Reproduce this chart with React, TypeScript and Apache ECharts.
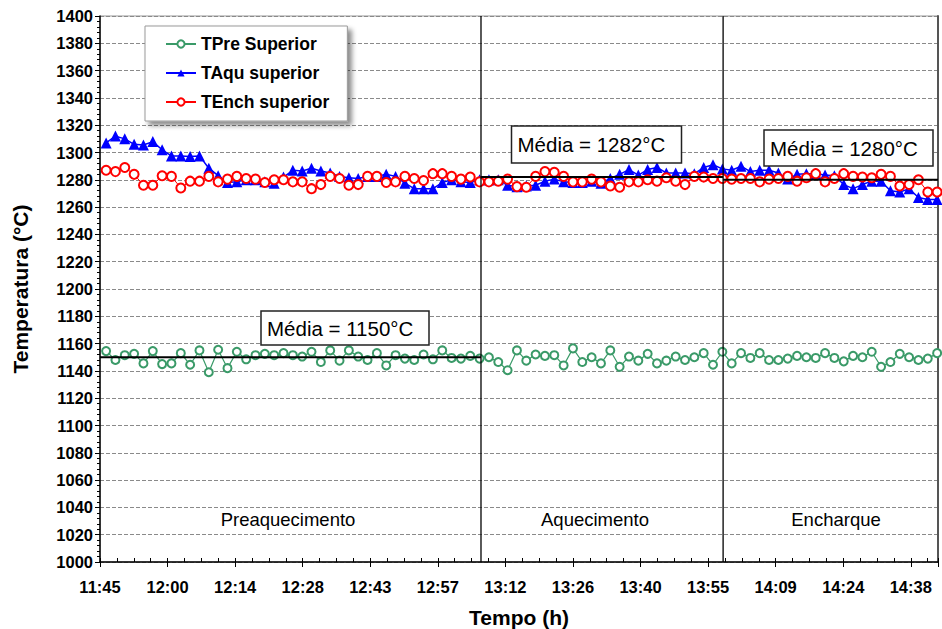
import React, { useEffect, useRef } from "react";
import * as echarts from "echarts";

const FONT = '"Liberation Sans", Arial, sans-serif';

// x axis: minutes after 11:45, major step 14.4 min (0.01 day)
const xTickLabels = ["11:45", "12:00", "12:14", "12:28", "12:43", "12:57", "13:12", "13:26", "13:40", "13:55", "14:09", "14:24", "14:38"];
const X_STEP = 14.4;
const X_MAX = 178.6;
// sampling of the readings (minutes after 11:45)
const SAMPLE_START = 1.3;
const SAMPLE_STEP = 1.99;

const tPreSuperior = [
  1154.5, 1148, 1151.5, 1152.5, 1145.5, 1154.5, 1145, 1145.5, 1153, 1144.5,
  1155, 1139, 1155.5, 1142, 1154, 1148.5, 1151.5, 1152.5, 1151.5, 1153,
  1151.5, 1150.5, 1154, 1146.5, 1155, 1147.5, 1155, 1150.5, 1148, 1153,
  1144, 1151.5, 1149, 1148, 1152, 1148.5, 1155, 1149.5, 1149, 1151,
  1149, 1150, 1146.5, 1140.5, 1155, 1147.5, 1152, 1151, 1151.5, 1144,
  1156.5, 1146.5, 1150, 1145.5, 1155, 1143, 1150.5, 1147.5, 1152.5, 1145.5,
  1147.5, 1150.5, 1148, 1150, 1153, 1144.5, 1154, 1145.5, 1153, 1149.5,
  1153, 1148, 1148, 1149, 1151, 1150, 1149.5, 1153, 1149.5, 1147,
  1151, 1150, 1154, 1143, 1146.5, 1152.5, 1150, 1148, 1149, 1153,
];

const tAquSuperior = [
  1307, 1312, 1310, 1306, 1305.5, 1308, 1302, 1297.5, 1297.5, 1297,
  1297.5, 1288.5, 1283, 1278, 1278.5, 1280, 1280, 1278.5, 1277.5, 1282,
  1287, 1286.5, 1288.5, 1286.5, 1285, 1282.5, 1281.5, 1281, 1282.5, 1282.5,
  1284, 1282.5, 1277.5, 1273.5, 1273.5, 1273.5, 1278, 1280, 1278.5, 1278,
  1280, 1280, 1280, 1276, 1275, 1275.5, 1276, 1279, 1280.5, 1278.5,
  1278, 1278, 1279, 1277.5, 1281, 1284, 1287.5, 1283.5, 1287.5, 1289,
  1285, 1285, 1285, 1284.5, 1289, 1291, 1288, 1287, 1290, 1286,
  1287, 1287, 1285, 1280.5, 1284, 1284.5, 1284.5, 1283.5, 1283, 1276.5,
  1273.5, 1276.5, 1279, 1279, 1272, 1271, 1273.5, 1267, 1265.5, 1265.5,
];

const tEnchSuperior = [
  1287, 1286, 1289, 1284, 1276, 1276, 1283, 1282.5, 1274, 1279,
  1279, 1282.5, 1278.5, 1280.5, 1282.5, 1281, 1280.5, 1278, 1280, 1280,
  1278.5, 1278.5, 1273.5, 1276.5, 1282.5, 1281, 1276, 1276.5, 1282.5, 1282.5,
  1278, 1278.5, 1282.5, 1281, 1279.5, 1284.5, 1284.5, 1282.5, 1280.5, 1282,
  1278.5, 1278.5, 1279, 1280.5, 1275, 1274.5, 1282.5, 1286, 1285.5, 1282.5,
  1278.5, 1278.5, 1280.5, 1278.5, 1275.5, 1274.5, 1278.5, 1278.5, 1280, 1279,
  1281.5, 1279, 1276.5, 1282.5, 1282, 1281, 1281, 1280.5, 1281, 1281,
  1278.5, 1280.5, 1281, 1282.5, 1279, 1281.5, 1284.5, 1278.5, 1281, 1284.5,
  1282.5, 1282, 1281.5, 1284, 1282.5, 1275.5, 1276.5, 1280, 1271, 1271,
];

// phase boundaries (minutes after 11:45) and phase means
const sectionBounds = [0, 81.2, 132.8, X_MAX];
const sectionNames = ["Preaquecimento", "Aquecimento", "Encharque"];
const sectionMeans = [1150, 1282, 1280];

const GREEN = "#3a9a68";
const BLUE = "#0000ff";
const RED = "#ff0000";

function toPoints(values: number[]) {
  return values.map((v, i) => [SAMPLE_START + SAMPLE_STEP * i, v]);
}

export default function App() {
  const ref = useRef<HTMLDivElement | null>(null);

  useEffect(() => {
    if (!ref.current) return;
    const chart = echarts.init(ref.current, null, { renderer: "svg" });

    const meanSeries = sectionMeans.map((m, i) => ({
      type: "line",
      name: "mean" + i,
      data: [
        [sectionBounds[i], m],
        [sectionBounds[i + 1], m],
      ],
      symbol: "none",
      lineStyle: { color: "#000", width: 2 },
      silent: true,
      z: 10,
    }));
    const boundarySeries = sectionBounds.slice(1, 3).map((b, i) => ({
      type: "line",
      name: "bound" + i,
      data: [
        [b, 1000],
        [b, 1400],
      ],
      symbol: "none",
      lineStyle: { color: "#000", width: 1.3 },
      silent: true,
      z: 10,
    }));

    const boxes = [
      { x: 261, y: 311, w: 168, h: 34, text: "Média = " + sectionMeans[0] + "°C" },
      { x: 511.5, y: 126, w: 170, h: 37, text: "Média = " + sectionMeans[1] + "°C" },
      { x: 764, y: 130, w: 169, h: 36, text: "Média = " + sectionMeans[2] + "°C" },
    ];
    const sectionLabelPos = [288, 595, 836];

    const graphic: any[] = [];
    boxes.forEach((b) => {
      graphic.push({
        type: "rect",
        shape: { x: b.x, y: b.y, width: b.w, height: b.h },
        style: { fill: "#fff", stroke: "#222", lineWidth: 1.5 },
        z: 100,
      });
      graphic.push({
        type: "text",
        x: b.x + 6,
        y: b.y + b.h / 2,
        style: {
          text: b.text,
          fill: "#000",
          font: `20.5px ${FONT}`,
          textAlign: "left",
          textVerticalAlign: "middle",
        },
        z: 101,
      });
    });
    sectionNames.forEach((n, i) => {
      graphic.push({
        type: "text",
        x: sectionLabelPos[i],
        y: 519,
        style: {
          text: n,
          fill: "#000",
          font: `18.5px ${FONT}`,
          textAlign: "center",
          textVerticalAlign: "middle",
        },
        z: 100,
      });
    });

    const labelStyle = { color: "#000", fontWeight: "bold", fontSize: 16.5, fontFamily: FONT };

    chart.setOption({
      animation: false,
      grid: {
        left: 100,
        right: 4,
        top: 16,
        bottom: 67,
        show: true,
        borderColor: "#999",
        borderWidth: 1,
        containLabel: false,
        outerBoundsMode: "none",
      },
      legend: {
        data: ["TPre Superior", "TAqu superior", "TEnch superior"],
        orient: "vertical",
        left: 145,
        top: 26,
        padding: [9, 18, 10, 20],
        itemWidth: 30,
        itemHeight: 9,
        itemGap: 11,
        selectedMode: false,
        backgroundColor: "#fff",
        borderColor: "#999",
        borderWidth: 1,
        shadowColor: "rgba(0,0,0,0.45)",
        shadowBlur: 5,
        shadowOffsetX: 4,
        shadowOffsetY: 4,
        textStyle: { color: "#000", fontWeight: "bold", fontSize: 17.5, fontFamily: FONT, lineHeight: 18 },
      },
      xAxis: [
        {
          type: "value",
          min: 0,
          max: X_MAX,
          interval: X_STEP,
          axisLine: { show: true, onZero: false, lineStyle: { color: "#000", width: 1.5 } },
          axisTick: { show: true, inside: true, length: 4, lineStyle: { color: "#000", width: 1 } },
          minorTick: { show: true, splitNumber: 4, length: 4, lineStyle: { color: "#000", width: 1 } },
          splitLine: { show: false },
          axisLabel: {
            ...labelStyle,
            margin: 16,
            formatter: (v: number) => {
              const k = v / X_STEP;
              const r = Math.round(k);
              return Math.abs(k - r) < 1e-6 && r < xTickLabels.length ? xTickLabels[r] : "";
            },
          },
          name: "Tempo (h)",
          nameLocation: "middle",
          nameGap: 45,
          nameTextStyle: { color: "#000", fontWeight: "bold", fontSize: 21, fontFamily: FONT },
        },
        {
          type: "value",
          position: "bottom",
          min: 0,
          max: X_MAX,
          interval: X_STEP,
          axisLine: { show: false, onZero: false },
          axisTick: { show: true, inside: false, length: 5, lineStyle: { color: "#000", width: 1 } },
          axisLabel: { show: false },
          splitLine: { show: false },
        },
      ],
      yAxis: [
        {
          type: "value",
          min: 1000,
          max: 1400,
          interval: 20,
          axisLine: { show: true, onZero: false, lineStyle: { color: "#000", width: 1.5 } },
          axisTick: { show: true, inside: false, length: 5, lineStyle: { color: "#000", width: 1 } },
          minorTick: { show: true, splitNumber: 5, length: 3, lineStyle: { color: "#000", width: 1 } },
          splitLine: { show: true, lineStyle: { color: "#8a8a8a", width: 1, type: [4, 2] } },
          axisLabel: { ...labelStyle, margin: 7, formatter: (v: number) => String(v) },
          name: "Temperatura (°C)",
          nameLocation: "middle",
          nameGap: 69,
          nameTextStyle: { color: "#000", fontWeight: "bold", fontSize: 21, fontFamily: FONT },
        },
        {
          type: "value",
          position: "right",
          min: 1000,
          max: 1400,
          interval: 20,
          axisLine: { show: true, onZero: false, lineStyle: { color: "#555", width: 2 } },
          axisTick: { show: false },
          axisLabel: { show: false },
          splitLine: { show: false },
        },
      ],
      series: [
        {
          type: "line",
          name: "TPre Superior",
          data: toPoints(tPreSuperior),
          symbol: "emptyCircle",
          symbolSize: 8,
          lineStyle: { color: GREEN, width: 1.2 },
          itemStyle: { color: GREEN, borderWidth: 1.2 },
          emphasis: { disabled: true },
          z: 3,
        },
        {
          type: "line",
          name: "TAqu superior",
          data: toPoints(tAquSuperior),
          symbol: "triangle",
          symbolSize: 11,
          lineStyle: { color: BLUE, width: 1.5 },
          itemStyle: { color: BLUE },
          emphasis: { disabled: true },
          z: 4,
        },
        {
          type: "line",
          name: "TEnch superior",
          data: toPoints(tEnchSuperior),
          symbol: "emptyCircle",
          symbolSize: 9,
          lineStyle: { color: RED, width: 1 },
          itemStyle: { color: RED, borderWidth: 1.2 },
          emphasis: { disabled: true },
          z: 5,
        },
        ...meanSeries,
        ...boundarySeries,
      ],
      graphic,
    });

    return () => {
      chart.dispose();
    };
  }, []);

  return (
    <div
      ref={ref}
      style={{ position: "absolute", left: 0, top: 0, width: 942, height: 629, background: "#fff" }}
    />
  );
}
